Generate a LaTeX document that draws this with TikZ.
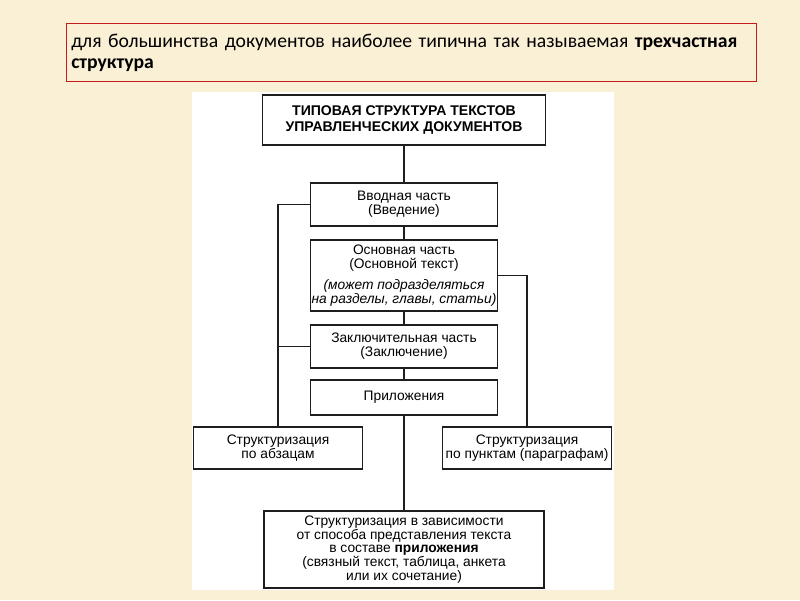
\documentclass[tikz,border=0pt]{standalone}
\usepackage{fontspec}
\setmainfont{Carlito}
\newfontfamily\boxfont{Liberation Sans}
\definecolor{paper}{RGB}{250,240,214}
\definecolor{noteRed}{RGB}{196,28,28}
\definecolor{lineGray}{RGB}{30,30,30}
\begin{document}
\begin{tikzpicture}[x=0.025cm, y=-0.025cm,
    docBox/.style={draw=lineGray, line width=0.9pt, fill=white, align=center,
        inner sep=0pt, font=\boxfont\fontsize{9.8}{10}\selectfont},
    partBox/.style={docBox, minimum width=4.675cm},
    sideBox/.style={docBox, minimum width=4.225cm, minimum height=1.05cm},
    docLink/.style={draw=lineGray, line width=0.9pt},
]
\useasboundingbox (0,0) rectangle (800,600);
\fill[paper] (0,0) rectangle (800,600);
% note on top
\node[draw=noteRed, line width=0.8pt, anchor=north west, align=left,
    minimum width=17.2cm, minimum height=1.45cm, text width=17cm,
    font=\fontsize{14}{15}\selectfont] (note) at (66,23)
    {для большинства документов наиболее типична так называемая \textbf{трехчастная}\\
     \textbf{структура}};
\fill[white] (192,92) rectangle (614,590);
% main column
\node[docBox, minimum width=7.075cm, minimum height=1.25cm,
    font=\boxfont\bfseries\fontsize{10}{11.5}\selectfont] (title) at (404,120)
    {ТИПОВАЯ СТРУКТУРА ТЕКСТОВ\\УПРАВЛЕНЧЕСКИХ ДОКУМЕНТОВ};
\node[partBox, minimum height=1.075cm] (intro) at (404,204.5) {Вводная часть\\(Введение)};
\node[partBox, minimum height=1.775cm] (body) at (404,275.5)
    {Основная часть\\(Основной текст)\\[5pt]
     \itshape (может подразделяться\\\itshape на разделы, главы, статьи)};
\node[partBox, minimum height=1.075cm] (concl) at (404,346.5) {Заключительная часть\\(Заключение)};
\node[partBox, minimum height=0.875cm] (appx) at (404,397.5) {Приложения};
% structuring
\node[sideBox] (byPar) at (278,448) {Структуризация\\по абзацам};
\node[sideBox] (byItem) at (527,448) {Структуризация\\по пунктам (параграфам)};
\node[docBox, minimum width=7cm, minimum height=1.925cm, font=\boxfont\fontsize{9.8}{9.8}\selectfont] (byAppx) at (404,549.5)
    {Структуризация в зависимости\\от способа представления текста\\в составе \textbf{приложения}\\
     (связный текст, таблица, анкета\\или их сочетание)};
% links
\draw[docLink] (title) -- (intro);
\draw[docLink] (intro) -- (body);
\draw[docLink] (body) -- (concl);
\draw[docLink] (concl) -- (appx);
\draw[docLink] (appx) -- (byAppx);
\draw[docLink] (intro.west) -| (byPar.north);
\draw[docLink] (concl.west) -- (concl.west -| byPar.north);
\draw[docLink] (body.east) -| (byItem.north);
\end{tikzpicture}
\end{document}
